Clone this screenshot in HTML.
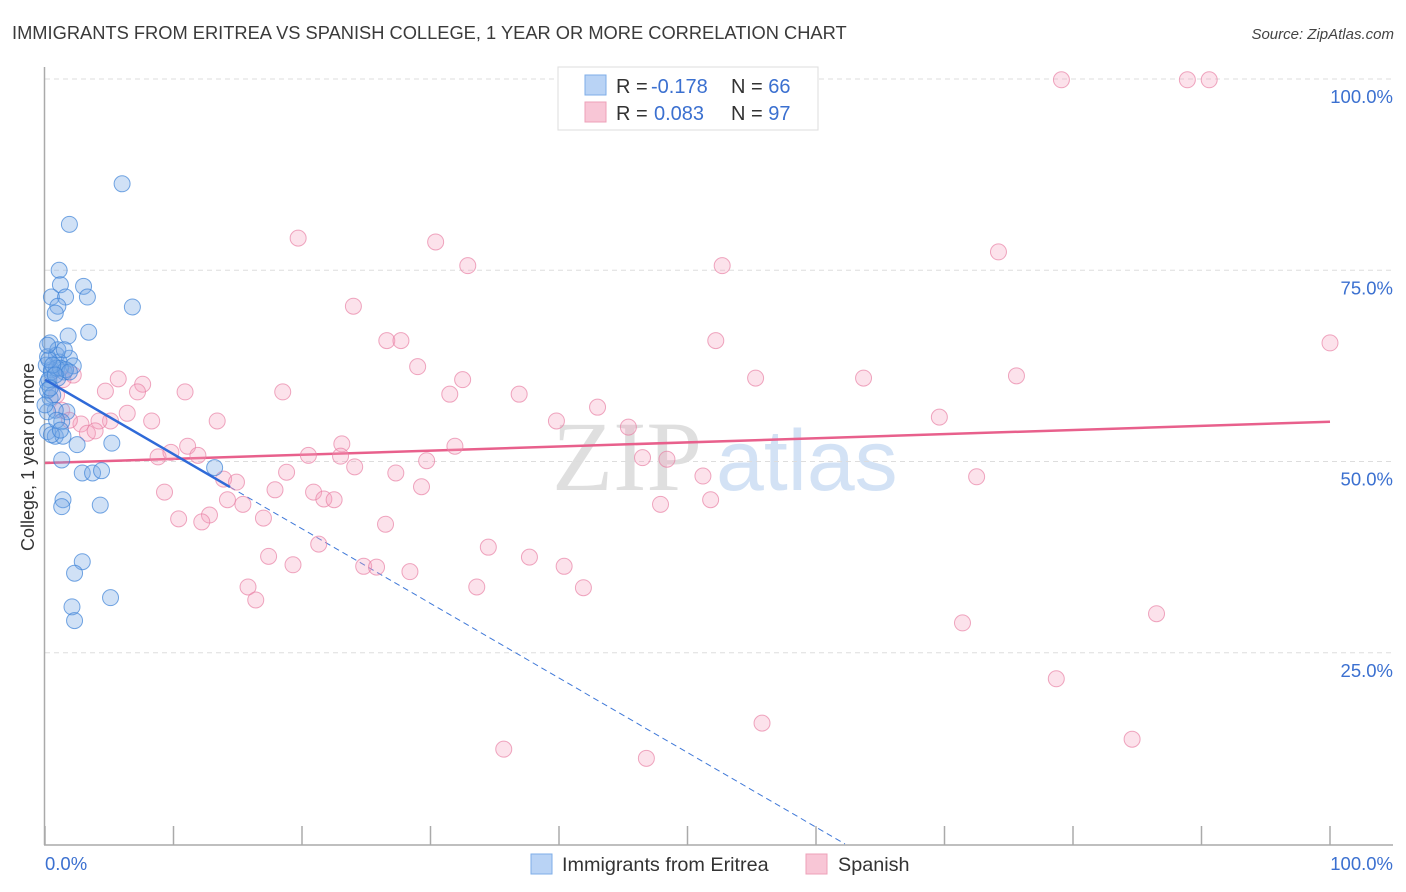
<!DOCTYPE html>
<html><head><meta charset="utf-8"><style>
body{margin:0;background:#fff;font-family:"Liberation Sans",sans-serif;}
svg{display:block}
</style></head><body>
<svg id="chart" width="1406" height="892">
<text x="12" y="39" font-size="18.3" fill="#3a3a3a">IMMIGRANTS FROM ERITREA VS SPANISH COLLEGE, 1 YEAR OR MORE CORRELATION CHART</text>
<text x="1394" y="39" font-size="15" fill="#444" font-style="italic" text-anchor="end">Source: ZipAtlas.com</text>
<g>
<text x="552" y="490" font-size="100" font-family="Liberation Serif,serif" fill="#d8d8d8" opacity="0.8">ZIP</text>
<text x="716" y="490" font-size="86" fill="#c9dcf3" opacity="0.8">atlas</text>
</g>
<g id="grid"></g>
<g id="axes"></g>
<g id="lines"></g>
<g id="pts"></g>
<g>
<rect x="558" y="67" width="260" height="63" fill="#fff" stroke="#ddd"/>
<rect x="585" y="75" width="21" height="20" fill="#b9d3f5" stroke="#7eaee8"/>
<rect x="585" y="102" width="21" height="20" fill="#f8c6d6" stroke="#eea0b8"/>
<text x="616" y="93" font-size="20" fill="#333">R = <tspan fill="#3b70d0" x="651">-0.178</tspan><tspan x="731">N = </tspan><tspan fill="#3b70d0">66</tspan></text>
<text x="616" y="120" font-size="20" fill="#333">R = <tspan fill="#3b70d0" x="654">0.083</tspan><tspan x="731">N = </tspan><tspan fill="#3b70d0">97</tspan></text>
</g>
<g>
<rect x="531" y="854" width="21" height="20" fill="#b9d3f5" stroke="#7eaee8"/>
<text x="562" y="871" font-size="19.8" fill="#333">Immigrants from Eritrea</text>
<rect x="806" y="854" width="21" height="20" fill="#f8c6d6" stroke="#eea0b8"/>
<text x="838" y="871" font-size="19.8" fill="#333">Spanish</text>
</g>
<text transform="translate(34,457) rotate(-90)" font-size="18" fill="#333" text-anchor="middle">College, 1 year or more</text>
</svg>
<script>
const blueX=[6.0,1.9,1.1,1.2,3.0,3.3,0.5,1.6,1.0,0.8,6.8,1.8,3.4,0.4,0.2,0.9,1.9,1.1,0.5,1.5,2.2,1.0,0.2,0.4,1.7,0.8,0.2,1.3,0.2,0.8,1.4,2.5,5.2,1.3,2.9,3.7,4.4,1.4,13.2,4.3,1.3,2.9,2.3,2.1,2.3,5.1,0.5,1.0,1.5,0.1,0.5,0.3,0.9,1.2,1.6,1.9,0.2,0.6,0.9,0.3,0.2,0.6,0.8,0.4,1.2,0.0];
const blueY=[86.3,81.0,75.0,73.1,72.9,71.5,71.5,71.5,70.3,69.4,70.2,66.4,66.9,65.5,63.7,63.9,63.5,63.0,62.0,61.7,62.5,60.9,60.3,58.3,56.5,56.7,56.5,55.2,53.9,53.3,53.3,52.2,52.4,50.2,48.5,48.5,48.8,45.0,49.2,44.3,44.1,36.9,35.4,31.0,29.2,32.2,53.5,64.6,64.6,62.6,61.7,60.7,62.2,62.2,62.0,61.7,59.3,58.7,55.4,63.3,65.2,62.6,61.3,59.6,54.1,57.4];
const pinkX=[79.1,88.9,90.6,19.7,30.4,32.9,52.7,74.2,24.0,26.6,27.7,52.2,100,29.0,55.3,63.7,75.6,32.5,18.5,10.9,31.5,36.9,4.7,5.7,7.6,7.2,1.4,2.2,43.0,39.8,69.6,13.4,8.3,6.4,5.1,4.2,2.8,3.3,3.9,45.4,31.9,23.1,11.1,11.9,8.8,9.8,20.5,23.0,29.7,46.5,48.4,24.1,18.8,27.3,51.2,72.5,13.9,14.9,29.3,17.9,9.3,20.9,21.7,22.5,14.2,15.4,12.8,10.4,12.2,17.0,47.9,51.8,26.5,21.3,34.5,17.4,37.7,24.8,25.8,19.3,28.4,40.4,15.8,16.4,33.6,41.9,71.4,86.5,78.7,55.8,84.6,35.7,46.8,1.3,1.9,0.9];
const pinkY=[99.9,99.9,99.9,79.2,78.7,75.6,75.6,77.4,70.3,65.8,65.8,65.8,65.5,62.4,60.9,60.9,61.2,60.7,59.1,59.1,58.8,58.8,59.2,60.8,60.1,59.1,60.7,61.3,57.1,55.3,55.8,55.3,55.3,56.3,55.3,55.3,54.9,53.7,54.0,54.5,52.0,52.3,52.0,50.8,50.6,51.2,50.8,50.7,50.1,50.5,50.3,49.3,48.6,48.5,48.1,48.0,47.7,47.3,46.7,46.3,46.0,46.0,45.1,45.0,45.0,44.4,43.0,42.5,42.1,42.6,44.4,45.0,41.8,39.2,38.8,37.6,37.5,36.3,36.2,36.5,35.6,36.3,33.6,31.9,33.6,33.5,28.9,30.1,21.6,15.8,13.7,12.4,11.2,56.7,55.4,58.7];
const blueTrend=[60.7,-0.975];   // intercept, slope
const blueSolidEnd=14.4;
const pinkTrend=[49.8,0.054];
const yTicks=[25,50,75,100];
const yTickLabels=["25.0%","50.0%","75.0%","100.0%"];
const xTicks=[0,10,20,30,40,50,60,70,80,90,100];
const xLabels=["0.0%","100.0%"];

const X=v=>45+v*12.85, Y=v=>844-v*7.65;
const NS="http://www.w3.org/2000/svg";
function mk(p,t,a){const e=document.createElementNS(NS,t);for(const k in a)e.setAttribute(k,a[k]);p.appendChild(e);return e;}
const grid=document.getElementById('grid'),axes=document.getElementById('axes'),lines=document.getElementById('lines'),pts=document.getElementById('pts');
yTicks.forEach((v,i)=>{
 const l=mk(grid,'line',{x1:45,x2:1393,y1:Y(v),y2:Y(v),stroke:'#ddd','stroke-dasharray':'5,4'});
 
 
 const t=mk(axes,'text',{x:1393,y:Y(v)+24,'font-size':18.5,fill:'#3b70d0','text-anchor':'end'});
 t.textContent=yTickLabels[i];
 
 
});
const ya=mk(axes,'line',{x1:44.5,x2:44.5,y1:67,y2:845,stroke:'#aaa','stroke-width':1.5});


const xa=mk(axes,'line',{x1:44,x2:1393,y1:845,y2:845,stroke:'#aaa','stroke-width':1.5});


xTicks.forEach(v=>{
 const t=mk(axes,'line',{x1:X(v),x2:X(v),y1:826,y2:845,stroke:'#aaa','stroke-width':1.5});
 
 
});
const xl0=mk(axes,'text',{x:45,y:870,'font-size':18.5,fill:'#3b70d0'});xl0.textContent=xLabels[0];


const xl1=mk(axes,'text',{x:1393,y:870,'font-size':18.5,fill:'#3b70d0','text-anchor':'end'});xl1.textContent=xLabels[1];



pinkX.forEach((x,i)=>{
 const c=mk(pts,'circle',{cx:X(x),cy:Y(pinkY[i]),r:8,fill:'rgba(244,160,188,0.3)',stroke:'rgba(232,130,165,0.7)','stroke-width':1});
 
 
});
blueX.forEach((x,i)=>{
 const c=mk(pts,'circle',{cx:X(x),cy:Y(blueY[i]),r:8,fill:'rgba(120,170,230,0.35)',stroke:'rgba(60,130,215,0.7)','stroke-width':1});
 
 
});
const bf=v=>blueTrend[0]+blueTrend[1]*v;
const bEnd=-blueTrend[0]/blueTrend[1];
const bd=mk(lines,'line',{x1:X(blueSolidEnd),y1:Y(bf(blueSolidEnd)),x2:X(bEnd),y2:Y(0),stroke:'#3f78d8','stroke-width':1,'stroke-dasharray':'6,4'});


const pf=v=>pinkTrend[0]+pinkTrend[1]*v;
const pl=mk(lines,'line',{x1:X(0),y1:Y(pf(0)),x2:X(100),y2:Y(pf(100)),stroke:'#e8608c','stroke-width':2.5});


const bs=mk(pts,'line',{x1:X(0),y1:Y(bf(0)),x2:X(blueSolidEnd),y2:Y(bf(blueSolidEnd)),stroke:'#2f6ad8','stroke-width':2.5});


</script>
</body></html>
